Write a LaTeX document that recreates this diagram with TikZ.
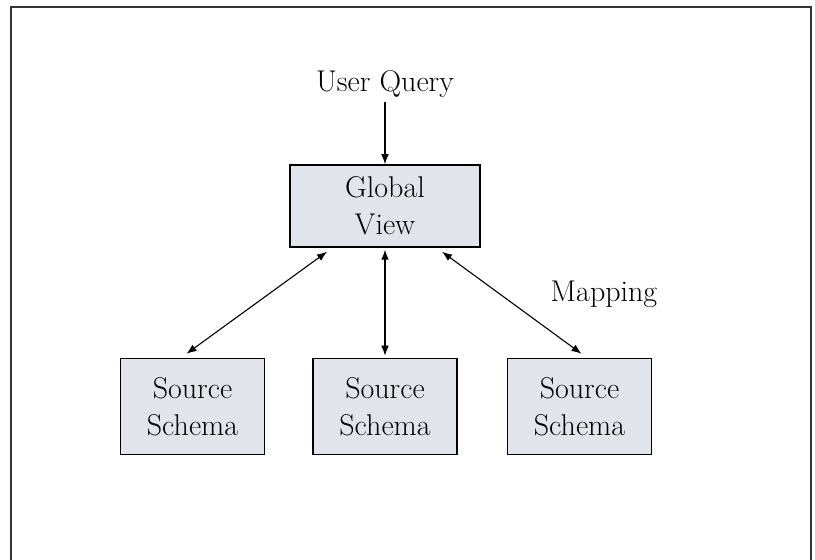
\documentclass[tikz,border=0pt]{standalone}
\usepackage{tikz}
\usetikzlibrary{shapes,arrows,arrows.meta}
\usetikzlibrary{positioning}
\definecolor{boxfill}{RGB}{225,228,234}
\tikzset{auto,>={Latex[length=5pt,width=3.8pt]}, node distance=1cm, font=\fontsize{15}{18.5}\selectfont}
\tikzstyle{view} = [draw, fill=boxfill, rectangle, line width=0.75pt, minimum height=41pt, minimum width=95pt, text centered, align=center]
\tikzstyle{schema} = [draw, fill=boxfill, rectangle, line width=0.75pt, minimum height=48pt, minimum width=72pt, text centered, align=center]
\tikzstyle{label} = [inner sep=2pt]
\tikzstyle{link} = [line width=0.55pt]
\begin{document}
\begin{tikzpicture}
    \useasboundingbox (0,0) rectangle (407.5pt,-280pt);
    \draw [line width=1.3pt, draw=black!80] (5.5pt,-280pt) -- (5.5pt,-3.5pt) -- (405.5pt,-3.5pt) -- (405.5pt,-280pt);

    \node [view] (global) at (192.5pt,-103pt) {Global\\View};
    \node [label, above=31pt of global] (query) {User Query};
    \node [schema, below=55pt of global] (src_b) {Source\\Schema};
    \node [schema, left=23.5pt of src_b] (src_a) {Source\\Schema};
    \node [schema, right=24.5pt of src_b] (src_c) {Source\\Schema};
    \node [label] (mapping) at (302pt,-147pt) {Mapping};

    \draw [link,->] (query) -- (global);
    \draw [link,<->] ([xshift=-29pt,yshift=-2pt]global.south) -- ([xshift=-3pt,yshift=2pt]src_a.north);
    \draw [link,<->] ([yshift=-1pt]global.south) -- ([yshift=1pt]src_b.north);
    \draw [link,<->] ([xshift=28.5pt,yshift=-2pt]global.south) -- ([xshift=1pt,yshift=2pt]src_c.north);
\end{tikzpicture}
\end{document}
